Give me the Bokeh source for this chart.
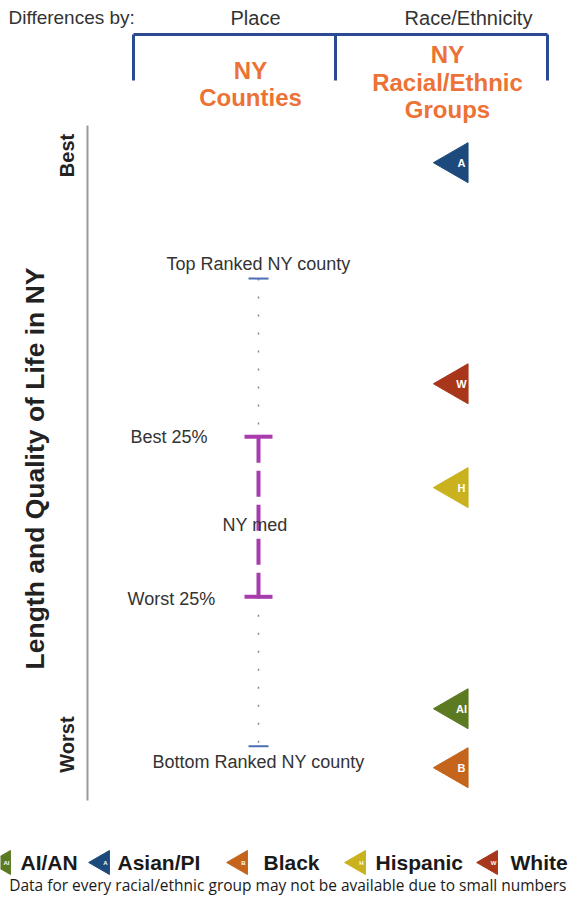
import numpy as np
from bokeh.plotting import figure
from bokeh.models import Range1d
from bokeh.core.properties import value
from bokeh.embed import file_html
from bokeh.resources import INLINE

# ---- data (rank score: higher = better length & quality of life) ----
groups = ["Asian/PI", "White", "Hispanic", "AI/AN", "Black"]
group_letters = ["A", "W", "H", "AI", "B"]
group_scores = [95.2, 62.2, 46.7, 13.7, 4.9]
group_colors = ["#1d4a7d", "#a8361a", "#c9b21e", "#5c7a22", "#c4651b"]

county_labels = ["Top Ranked NY county", "Best 25%", "NY med", "Worst 25%", "Bottom Ranked NY county"]
county_scores = [77.9, 54.3, 41.8, 30.4, 8.1]

legend_names = ["AI/AN", "Asian/PI", "Black", "Hispanic", "White"]
legend_letters = ["AI", "A", "B", "H", "W"]
legend_colors = ["#5c7a22", "#1d4a7d", "#c4651b", "#c9b21e", "#a8361a"]

# ---- layout helper (picture pixel row -> plot units) ----
def Y(ypx):
    return (800 - ypx) / 6.7

FONT = value("Liberation Sans")

p = figure(width=568, height=895, output_backend="svg", toolbar_location=None,
           x_range=Range1d(0, 568), y_range=Range1d(Y(895), Y(0)),
           min_border=0, outline_line_color=None)
p.axis.visible = False
p.grid.visible = False
p.background_fill_color = "white"

# header
p.text(x=[8], y=[Y(17)], text=["Differences by:"], text_font=FONT, text_font_size="19px",
       text_color="#333333", text_baseline="middle", text_align="left")
p.text(x=[255, 468], y=[Y(17), Y(17)], text=["Place", "Race/Ethnicity"], text_font=FONT,
       text_font_size="20px", text_color="#333333", text_baseline="middle", text_align="center")
bc = "#2a4a94"
p.line(x=[133, 547], y=[Y(34), Y(34)], line_color=bc, line_width=3)
for xv in [133, 335, 547]:
    p.line(x=[xv, xv], y=[Y(34), Y(80)], line_color=bc, line_width=3)
oc = "#ec7235"
p.text(x=[250, 250], y=[Y(70), Y(97)], text=["NY", "Counties"], text_font=FONT,
       text_font_size="24px", text_font_style="bold", text_color=oc,
       text_baseline="middle", text_align="center")
p.text(x=[447, 447, 447], y=[Y(54), Y(82), Y(109)], text=["NY", "Racial/Ethnic", "Groups"],
       text_font=FONT, text_font_size="24px", text_font_style="bold", text_color=oc,
       text_baseline="middle", text_align="center")

# left axis-like annotation
p.line(x=[87, 87], y=[Y(125), Y(800)], line_color="#999999", line_width=2)
p.text(x=[66], y=[Y(155)], text=["Best"], angle=np.pi / 2, text_font=FONT, text_font_size="20px",
       text_font_style="bold", text_color="#222222", text_baseline="middle", text_align="center")
p.text(x=[66], y=[Y(744)], text=["Worst"], angle=np.pi / 2, text_font=FONT, text_font_size="20px",
       text_font_style="bold", text_color="#222222", text_baseline="middle", text_align="center")
p.text(x=[34], y=[Y(468)], text=["Length and Quality of Life in NY"], angle=np.pi / 2, text_font=FONT,
       text_font_size="26.5px", text_font_style="bold", text_color="#222222",
       text_baseline="middle", text_align="center")

# county column
cx = 258
top, best, med, worst, bot = county_scores
p.line(x=[cx, cx], y=[top, best], line_color="#888888", line_width=1.5, line_dash="2 16")
p.line(x=[cx, cx], y=[worst, bot], line_color="#888888", line_width=1.5, line_dash="2 16")
p.segment(x0=[cx - 10, cx - 10], x1=[cx + 10, cx + 10], y0=[top, bot], y1=[top, bot],
          line_color="#4a6fb5", line_width=2)
mc = "#a83cae"
p.line(x=[cx, cx], y=[best, worst], line_color=mc, line_width=4, line_dash="26 8")
p.segment(x0=[cx - 14, cx - 14], x1=[cx + 14, cx + 14], y0=[best, worst], y1=[best, worst],
          line_color=mc, line_width=4)
LF = "18px"
p.text(x=[cx], y=[top], text=[county_labels[0]], y_offset=[-15], text_font=FONT,
       text_font_size=LF, text_color="#333333", text_baseline="middle", text_align="center")
p.text(x=[130], y=[best], text=[county_labels[1]], text_font=FONT, text_font_size=LF,
       text_color="#333333", text_baseline="middle", text_align="left")
p.text(x=[222], y=[med], text=[county_labels[2]], y_offset=[5], text_font=FONT, text_font_size=LF,
       text_color="#333333", text_baseline="middle", text_align="left")
p.text(x=[127], y=[worst], text=[county_labels[3]], y_offset=[2], text_font=FONT, text_font_size=LF,
       text_color="#333333", text_baseline="middle", text_align="left")
p.text(x=[cx], y=[bot], text=[county_labels[4]], y_offset=[16], text_font=FONT,
       text_font_size=LF, text_color="#333333", text_baseline="middle", text_align="center")

# race/ethnicity triangles
gx = [456] * len(groups)
p.scatter(x=gx, y=group_scores, marker="triangle", size=40, angle=np.pi / 2,
          fill_color=group_colors, line_color=group_colors)
p.text(x=[461] * len(groups), y=group_scores, text=group_letters, text_font=FONT,
       text_font_size="11px", text_font_style="bold", text_color="white",
       text_baseline="middle", text_align="center")

# legend
lx_tri = [3, 102, 240, 358, 490]
lx_txt = [20, 117, 263, 375, 510]
ly = Y(862)
p.scatter(x=lx_tri, y=[ly] * 5, marker="triangle", size=24, angle=np.pi / 2,
          fill_color=legend_colors, line_color=legend_colors)
p.text(x=[x + 3 for x in lx_tri], y=[ly] * 5, text=legend_letters, text_font=FONT,
       text_font_size="6px", text_font_style="bold", text_color="white",
       text_baseline="middle", text_align="center")
p.text(x=lx_txt, y=[ly] * 5, text=legend_names, text_font=FONT, text_font_size="21px",
       text_font_style="bold", text_color="#1a1a1a", text_baseline="middle", text_align="left")
p.text(x=[566], y=[Y(884)], text=["Data for every racial/ethnic group may not be available due to small numbers"],
       text_font=value("Open Sans"), text_font_size="15.5px", text_color="#1a1a1a",
       text_baseline="middle", text_align="right")

open("out.html", "w").write(file_html(p, INLINE))
